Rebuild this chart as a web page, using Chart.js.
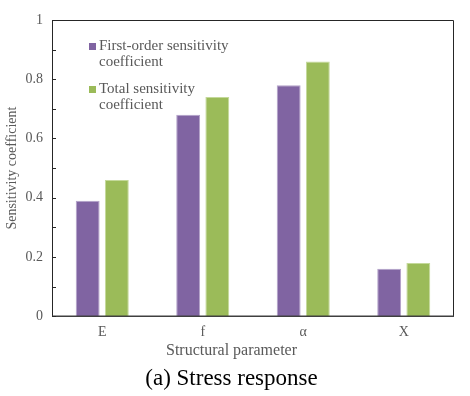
<!DOCTYPE html>
<html>
<head>
<meta charset="utf-8">
<script src="https://cdn.jsdelivr.net/npm/chart.js@4.4.0/dist/chart.umd.min.js"></script>
<style>
  html, body { margin: 0; padding: 0; background: #fff; }
  #wrap { width: 470px; height: 396px; }
</style>
</head>
<body>
<div id="wrap"><canvas id="stressChart"></canvas></div>
<script>
const categories = ['E', 'f', 'α', 'X'];
const firstOrder = [0.39, 0.68, 0.78, 0.16];
const totalOrder = [0.46, 0.74, 0.86, 0.18];
const seriesNames = [
  ['First-order sensitivity', 'coefficient'],
  ['Total sensitivity', 'coefficient']
];

const FONT = "'Liberation Serif', 'Times New Roman', serif";
const TEXT_GRAY = '#595959';
const colors = {
  first: '#8064A2',
  firstEdge: '#b3a2c9',
  total: '#9BBB59',
  totalEdge: '#c4d99a'
};

// box round the plot, inward tick marks and the legend inside the plot
const framePlugin = {
  id: 'frame',
  afterDraw(chart) {
    const { ctx, chartArea: a, scales } = chart;
    ctx.save();
    ctx.strokeStyle = '#262626';
    ctx.lineWidth = 1;
    ctx.beginPath();
    ctx.moveTo(a.left + 0.5, a.bottom);
    ctx.lineTo(a.left + 0.5, a.top + 0.5);
    ctx.lineTo(a.right - 0.5, a.top + 0.5);
    ctx.lineTo(a.right - 0.5, a.bottom);
    ctx.stroke();

    ctx.strokeStyle = '#404040';
    ctx.lineWidth = 1.5;
    ctx.beginPath();
    ctx.moveTo(a.left, a.bottom);
    ctx.lineTo(a.right, a.bottom);
    ctx.stroke();

    ctx.lineWidth = 1;
    ctx.strokeStyle = '#262626';
    scales.y.ticks.forEach(t => {
      const y = Math.round(scales.y.getPixelForValue(t.value)) + 0.5;
      ctx.beginPath();
      ctx.moveTo(a.left, y);
      ctx.lineTo(a.left + 4, y);
      ctx.stroke();
    });

    // legend
    ctx.font = '15px ' + FONT;
    ctx.textBaseline = 'alphabetic';
    let y = a.top + 30;
    chart.data.datasets.forEach(ds => {
      ctx.fillStyle = ds.backgroundColor;
      ctx.fillRect(a.left + 37, y - 7, 7, 7);
      ctx.fillStyle = TEXT_GRAY;
      ds.label.forEach((line, i) => {
        ctx.fillText(line, a.left + 47, y + i * 16);
      });
      y += 43;
    });
    ctx.restore();
  }
};

new Chart(document.getElementById('stressChart'), {
  type: 'bar',
  data: {
    labels: categories,
    datasets: [
      {
        label: seriesNames[0],
        data: firstOrder,
        backgroundColor: colors.first,
        borderColor: colors.firstEdge,
        borderWidth: 1
      },
      {
        label: seriesNames[1],
        data: totalOrder,
        backgroundColor: colors.total,
        borderColor: colors.totalEdge,
        borderWidth: 1
      }
    ]
  },
  options: {
    responsive: true,
    maintainAspectRatio: false,
    animation: false,
    layout: { padding: { left: 9, right: 16, top: 20, bottom: 3 } },
    datasets: {
      bar: { categoryPercentage: 0.58, barPercentage: 0.82 }
    },
    scales: {
      x: {
        afterFit(scale) { scale.height = 25; },
        grid: { display: false, drawTicks: false },
        border: { display: false },
        ticks: { color: TEXT_GRAY, font: { family: FONT, size: 14 }, padding: 8 }
      },
      y: {
        min: 0,
        max: 1,
        afterFit(scale) { scale.width = 43; },
        grid: { display: false, drawTicks: false },
        border: { display: false },
        ticks: {
          stepSize: 0.1,
          padding: 9,
          color: TEXT_GRAY,
          font: { family: FONT, size: 14 },
          callback: v => (Math.round(v * 10) % 2 === 0 ? String(Math.round(v * 10) / 10) : '')
        },
        title: {
          display: true,
          text: 'Sensitivity coefficient',
          color: TEXT_GRAY,
          font: { family: FONT, size: 14 },
          padding: { top: -5, bottom: 0 }
        }
      }
    },
    plugins: {
      legend: { display: false },
      tooltip: { enabled: false },
      subtitle: {
        display: true,
        position: 'bottom',
        text: 'Structural parameter',
        color: TEXT_GRAY,
        font: { family: FONT, size: 16 },
        padding: { top: 0, bottom: 2 }
      },
      title: {
        display: true,
        position: 'bottom',
        text: '(a) Stress response',
        color: '#000',
        font: { family: FONT, size: 23, weight: 'normal' },
        padding: { top: 3, bottom: 0 }
      }
    }
  },
  plugins: [framePlugin]
});
</script>
</body>
</html>
